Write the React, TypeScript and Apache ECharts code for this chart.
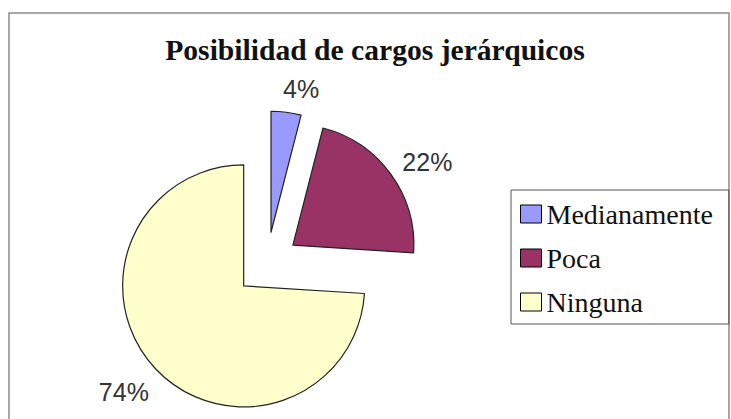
import React, { useEffect, useRef } from "react";
import * as echarts from "echarts";

const title = "Posibilidad de cargos jerárquicos";
const categories = ["Medianamente", "Poca", "Ninguna"];
const values = [4, 22, 74];
const sliceColors = ["#9999FF", "#993366", "#FFFFCC"];
// per-slice label placement (length, length2) — layout only
const labelLineLen = [23.5, 20.5, 33.7];
const labelLineLen2 = [-6, -5, -18];

export default function App() {
  const ref = useRef<HTMLDivElement>(null);
  useEffect(() => {
    if (!ref.current) return;
    const chart = echarts.init(ref.current, null, { renderer: "svg" });
    chart.setOption({
      animation: false,
      backgroundColor: "#ffffff",
      title: {
        text: title,
        left: 370,
        top: 30,
        textAlign: "center",
        textStyle: {
          fontFamily: "Liberation Serif",
          fontWeight: "bold",
          fontSize: 29.6,
          color: "#111",
        },
      },
      legend: {
        orient: "vertical",
        left: 511,
        top: 190,
        padding: [10, 16, 8, 9],
        itemGap: 16,
        itemWidth: 21,
        itemHeight: 18,
        borderColor: "#555",
        borderWidth: 1,
        icon: "rect",
        itemStyle: { borderColor: "#000", borderWidth: 1 },
        textStyle: {
          fontFamily: "Liberation Serif",
          fontSize: 28,
          color: "#111",
        },
        data: categories,
      },
      graphic: [
        {
          type: "rect",
          shape: { x: 9, y: 13, width: 720, height: 430 },
          style: { fill: "none", stroke: "#8a8a8a", lineWidth: 1.5 },
          silent: true,
        },
      ],
      series: [
        {
          type: "pie",
          center: [267, 264],
          radius: 121,
          startAngle: 90,
          clockwise: true,
          selectedMode: "multiple",
          selectedOffset: 32,
          avoidLabelOverlap: false,
          itemStyle: { borderColor: "#222", borderWidth: 1.2 },
          emphasis: { disabled: true },
          label: {
            show: true,
            position: "outside",
            formatter: "{c}%",
            fontFamily: "Liberation Sans",
            fontSize: 25,
            color: "#333",
            distanceToLabelLine: 0,
          },
          labelLine: { show: false },
          data: categories.map((name, i) => ({
            name,
            value: values[i],
            selected: true,
            itemStyle: { color: sliceColors[i] },
            labelLine: { show: false, length: labelLineLen[i], length2: labelLineLen2[i] },
          })),
        },
      ],
    });
    return () => chart.dispose();
  }, []);
  return (
    <div
      ref={ref}
      style={{ position: "fixed", left: 0, top: 0, width: 731, height: 419 }}
    />
  );
}
